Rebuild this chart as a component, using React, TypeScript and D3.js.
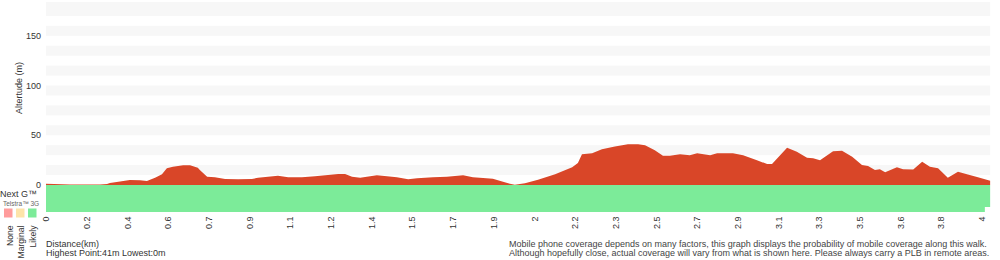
import React from "react";
import * as d3 from "d3";

// X tick labels (km), evenly spaced along the track
const TICK_LABELS = ["0","0.2","0.4","0.6","0.7","0.9","1.1","1.2","1.4","1.5","1.7","1.9","2","2.2","2.3","2.5","2.7","2.9","3.1","3.3","3.5","3.6","3.8","4"];
// Track position in tick-interval units
const TRACK_POS = [0,0.59,1.33,1.5,1.57,1.82,2.06,2.31,2.48,2.68,2.85,2.97,3.12,3.37,3.54,3.73,3.78,3.96,4.15,4.4,4.72,5.06,5.21,5.7,5.95,6.29,6.61,6.93,7.18,7.35,7.52,7.72,8.13,8.38,8.62,8.9,9.12,9.51,9.85,10.25,10.49,10.74,10.98,11.23,11.4,11.52,11.77,12.09,12.51,12.93,13.07,13.17,13.42,13.66,13.98,14.3,14.55,14.72,14.96,15.16,15.33,15.58,15.82,16,16.32,16.49,16.88,17.13,17.47,17.72,17.84,18.21,18.45,18.7,18.85,19.02,19.34,19.56,19.81,20.05,20.2,20.37,20.49,20.62,20.91,21.06,21.31,21.53,21.72,21.92,22.16,22.41,22.63,22.9,23.2];
// Altitude (m)
const ALTITUDE = [1.2,0.6,0.6,1,2,3.5,5,4.7,4,7.3,10.8,16.8,18.4,19.8,19.8,17.4,15,8.3,7.7,6,5.7,6,7.3,9.4,7.7,7.7,8.7,10,11,11,8.4,7.3,9.7,8.7,7.7,5.7,6.7,7.7,8.4,9.7,7.7,7,6.3,3.3,1.3,0.3,1.7,5.3,10.7,17.8,22,30.9,32,36,38.6,41,41,40,35,29.5,29.5,31,30,32,30,32,32,30,25,21,21,37.5,33.5,27.5,27,25,34,34.5,28.5,20,19,15,15.8,12.7,17.8,15.8,15.5,23.4,18.4,16.8,7.3,13.4,10.7,7.7,4.3];
const Y_TICKS = [0, 50, 100, 150];
const BAND_STARTS = [10, 30, 50, 70, 90, 110, 130, 150, 170];
const Y_MAX = 184;
const COVERAGE_ROWS = ["Next G\u2122", "Telstra\u2122 3G"];
const COVERAGE_END = [23.2, 23.07];
const LEGEND_LABELS = ["None", "Marginal", "Likely"];
const LEGEND_COLORS = ["#ff9c9c", "#fde4a9", "#7ceb99"];
const NOTE_LINES = [
  "Mobile phone coverage depends on many factors, this graph displays the probability of mobile coverage along this walk.",
  "Although hopefully close, actual coverage will vary from what is shown here. Please always carry a PLB in remote areas.",
];

const FONT = "'Liberation Sans', Arial, Helvetica, sans-serif";

export default function App() {
  const x = d3.scaleLinear().domain([0, TICK_LABELS.length - 1]).range([46, 982]);
  const y = d3.scaleLinear().domain([0, Y_MAX]).range([185, 2]);
  const data = TRACK_POS.map((p, i) => ({ p, a: ALTITUDE[i] }));
  const area = d3
    .area<{ p: number; a: number }>()
    .x((d) => x(d.p))
    .y0(y(0))
    .y1((d) => y(d.a));
  const xEnd = x(TRACK_POS[TRACK_POS.length - 1]);
  const rowY = [185, 207, 212];
  const maxA = d3.max(ALTITUDE) as number;
  const minA = d3.min(ALTITUDE) as number;

  return (
    <svg
      width={1000}
      height={260}
      style={{ position: "absolute", left: 0, top: 0, fontFamily: FONT }}
    >
      <rect width={1000} height={260} fill="#fff" />
      {BAND_STARTS.map((b) => {
        const top = b + 20 > Y_MAX ? Y_MAX : b + 10;
        return (
          <rect key={b} x={x(0)} width={xEnd - x(0)} y={y(top)} height={y(b) - y(top)} fill="#f7f7f7" />
        );
      })}
      <path d={area(data) || ""} fill="#d94628" />
      {COVERAGE_ROWS.map((r, i) => (
        <rect
          key={r}
          x={x(0)}
          width={x(COVERAGE_END[i]) - x(0)}
          y={rowY[i]}
          height={rowY[i + 1] - rowY[i]}
          fill="#7ceb99"
        />
      ))}
      {Y_TICKS.map((t) => (
        <text key={t} x={41} y={y(t)} dy="0.35em" textAnchor="end" fontSize={9} fill="#333">
          {t}
        </text>
      ))}
      <text transform="translate(21.5,88) rotate(-90)" textAnchor="middle" fontSize={9} fill="#333">
        Altertude (m)
      </text>
      {TICK_LABELS.map((l, i) => (
        <text
          key={i}
          transform={`translate(${x(i)},216.5) rotate(-90)`}
          dy="0.35em"
          textAnchor="end"
          fontSize={9}
          fill="#333"
        >
          {l}
        </text>
      ))}
      <text x={0} y={196.5} fontSize={9} fill="#333">{COVERAGE_ROWS[0]}</text>
      <text x={3} y={206} fontSize={6.5} fill="#666">{COVERAGE_ROWS[1]}</text>
      {LEGEND_LABELS.map((l, i) => (
        <g key={l}>
          <rect x={4 + i * 12} y={208.5} width={8.5} height={9} fill={LEGEND_COLORS[i]} />
          <text
            transform={`translate(${12.5 + i * 11.8},225.5) rotate(-90)`}
            textAnchor="end"
            fontSize={8.6}
            fill="#333"
          >
            {l}
          </text>
        </g>
      ))}
      <text x={46} y={246.5} fontSize={9} fill="#333">Distance(km)</text>
      <text x={46} y={255.5} fontSize={9} fill="#333">
        {`Highest Point:${Math.round(maxA)}m Lowest:${Math.round(minA)}m`}
      </text>
      {NOTE_LINES.map((l, i) => (
        <text key={i} x={509} y={246.5 + i * 9} fontSize={9} fill="#444">
          {l}
        </text>
      ))}
    </svg>
  );
}
